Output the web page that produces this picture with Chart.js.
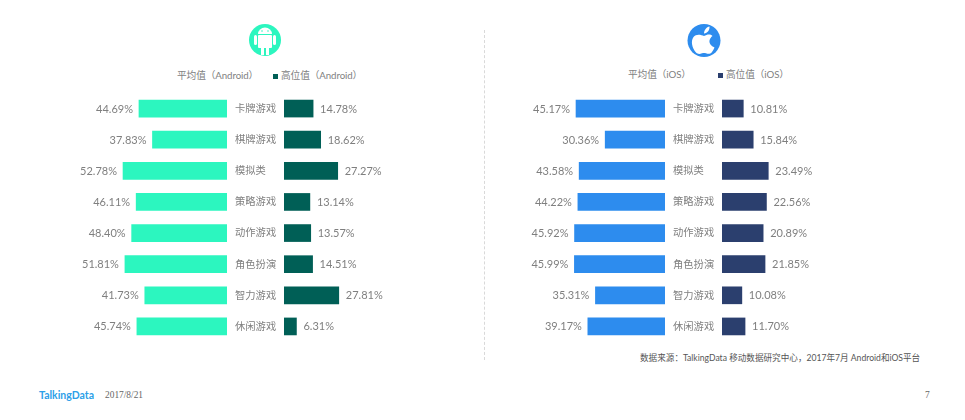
<!DOCTYPE html>
<html>
<head>
<meta charset="utf-8">
<script src="https://cdn.jsdelivr.net/npm/chart.js@4"></script>
<style>
  html, body { margin: 0; padding: 0; background: #fff; }
  body { width: 965px; height: 420px; position: relative; overflow: hidden;
         font-family: Lato, "Noto Sans CJK SC", sans-serif; color: #7f7f7f; }
  canvas { position: absolute; }
  .txt { position: absolute; white-space: nowrap; line-height: 1; }
  .legend { font-size: 9.700px; letter-spacing: -0.100px; }
  .swatch { position: absolute; width: 5px; height: 5px; }
  #divider { position: absolute; left: 484px; top: 30px; height: 330px; border-left: 1px dashed #d9d9d9; }
  svg { position: absolute; }
</style>
</head>
<body>
<svg style="left:247.500px;top:23px" width="34" height="34" viewBox="0 0 34 34">
  <circle cx="17" cy="17" r="16" fill="#2cf6bf"/>
  <path d="M10 11 a7 6.500 0 0 1 14 0 z" fill="#fff"/>
  <rect x="10" y="12" width="14" height="13" rx="1" fill="#fff"/>
  <rect x="6" y="12" width="3" height="10" rx="1.500" fill="#fff"/>
  <rect x="25" y="12" width="3" height="10" rx="1.500" fill="#fff"/>
  <rect x="13" y="25" width="3" height="7" fill="#fff"/>
  <rect x="18" y="25" width="3" height="7" fill="#fff"/>
  <circle cx="14" cy="8" r="0.800" fill="#2cf6bf"/>
  <circle cx="20" cy="8" r="0.800" fill="#2cf6bf"/>
</svg>
<svg style="left:687px;top:24px" width="34" height="34" viewBox="0 0 34 34">
  <circle cx="17" cy="16.500" r="16.500" fill="#2d8cee"/>
  <path fill="#fff" d="M17 12 C14 10.500 9 9.500 6.500 13 C3.500 17 5 24 9 28.500 C11 30.500 13 30 15 29.300 C16.500 28.800 17.500 28.800 19 29.300 C21 30 23 30.500 25 28 C26 26.500 27 25 27.500 23.500 C24 22 22 19 22.500 16.500 C23 14.500 24 13 25.500 12 C23 9.500 20 10.500 17 12 Z"/>
  <path fill="#fff" d="M17 9.500 C17 6 19.500 3 22.500 2.500 C22.800 6 20.500 9.200 17 9.500 Z"/>
</svg>

<div class="txt legend" style="left:177px;top:71px">平均值（Android）</div>
<div class="swatch" style="left:273px;top:74px;background:#005f56"></div>
<div class="txt legend" style="left:281px;top:71px">高位值（Android）</div>
<div class="txt legend" style="left:628px;top:70px">平均值（iOS）</div>
<div class="swatch" style="left:718px;top:73px;background:#2b3f6e"></div>
<div class="txt legend" style="left:726px;top:70px">高位值（iOS）</div>

<div id="divider"></div>

<canvas id="androidAvg" style="left:0;top:93px"></canvas>
<canvas id="androidHigh" style="left:235px;top:93px"></canvas>
<canvas id="iosAvg" style="left:485px;top:93px"></canvas>
<canvas id="iosHigh" style="left:673px;top:93px"></canvas>

<div class="txt" style="left:640px;top:354px;font-size:8.600px;color:#555">数据来源：TalkingData 移动数据研究中心，2017年7月 Android和iOS平台</div>
<div class="txt" style="left:39px;top:390px;font-size:10.500px;font-weight:700;color:#2d9fe8">TalkingData</div>
<div class="txt" style="left:105px;top:391px;font-size:9.400px;font-family:'Liberation Serif',serif;color:#666">2017/8/21</div>
<div class="txt" style="left:925px;top:391px;font-size:9.400px;font-family:'Liberation Serif',serif;color:#666">7</div>

<script>
const categories = ["卡牌游戏", "棋牌游戏", "模拟类", "策略游戏", "动作游戏", "角色扮演", "智力游戏", "休闲游戏"];
const androidAvg = [44.69, 37.83, 52.78, 46.11, 48.40, 51.81, 41.73, 45.74];
const androidHigh = [14.78, 18.62, 27.27, 13.14, 13.57, 14.51, 27.81, 6.31];
const iosAvg = [45.17, 30.36, 43.58, 44.22, 45.92, 45.99, 35.31, 39.17];
const iosHigh = [10.81, 15.84, 23.49, 22.56, 20.89, 21.85, 10.08, 11.70];

const pxPerPct = 1.97;
const chartH = 249;
const fontFamily = 'Lato, "Noto Sans CJK SC", sans-serif';

// value labels at the bar ends (no datalabels plugin available)
const valueLabels = {
  id: "valueLabels",
  afterDatasetsDraw(chart) {
    const ctx = chart.ctx;
    const reversed = chart.scales.x.options.reverse;
    const values = chart.data.datasets[0].data;
    ctx.save();
    ctx.font = "11px " + fontFamily;
    ctx.fillStyle = "#7f7f7f";
    ctx.textBaseline = "middle";
    ctx.textAlign = reversed ? "right" : "left";
    chart.getDatasetMeta(0).data.forEach((bar, i) => {
      ctx.fillText(values[i].toFixed(2) + "%", bar.x + (reversed ? -6 : 7), bar.y + 0.5);
    });
    ctx.restore();
  }
};

function makeChart(id, values, color, width, isLeft) {
  const el = document.getElementById(id);
  el.width = width;
  el.height = chartH;
  el.style.width = width + "px";
  el.style.height = chartH + "px";
  const axisW = isLeft ? 0 : 49;
  return new Chart(el.getContext("2d"), {
    type: "bar",
    data: {
      labels: categories,
      datasets: [{ data: values, backgroundColor: color, barThickness: 17 }]
    },
    options: {
      indexAxis: "y",
      responsive: false,
      animation: false,
      layout: { padding: 0 },
      plugins: { legend: { display: false }, tooltip: { enabled: false } },
      scales: {
        x: { display: false, reverse: isLeft, min: 0, max: (width - axisW) / pxPerPct },
        y: {
          display: !isLeft,
          afterFit(scale) {
            // keep the rows level with the left chart
            scale.width = axisW;
            scale.paddingTop = 0;
            scale.paddingBottom = 0;
          },
          grid: { display: false },
          border: { display: false },
          ticks: { crossAlign: "far", color: "#7f7f7f", font: { size: 10.3, family: fontFamily }, padding: 0 }
        }
      }
    },
    plugins: [valueLabels]
  });
}

makeChart("androidAvg", androidAvg, "#2cf6bf", 227, true);
makeChart("androidHigh", androidHigh, "#005f56", 200, false);
makeChart("iosAvg", iosAvg, "#2d8cee", 180, true);
makeChart("iosHigh", iosHigh, "#2b3f6e", 200, false);
</script>
</body>
</html>
